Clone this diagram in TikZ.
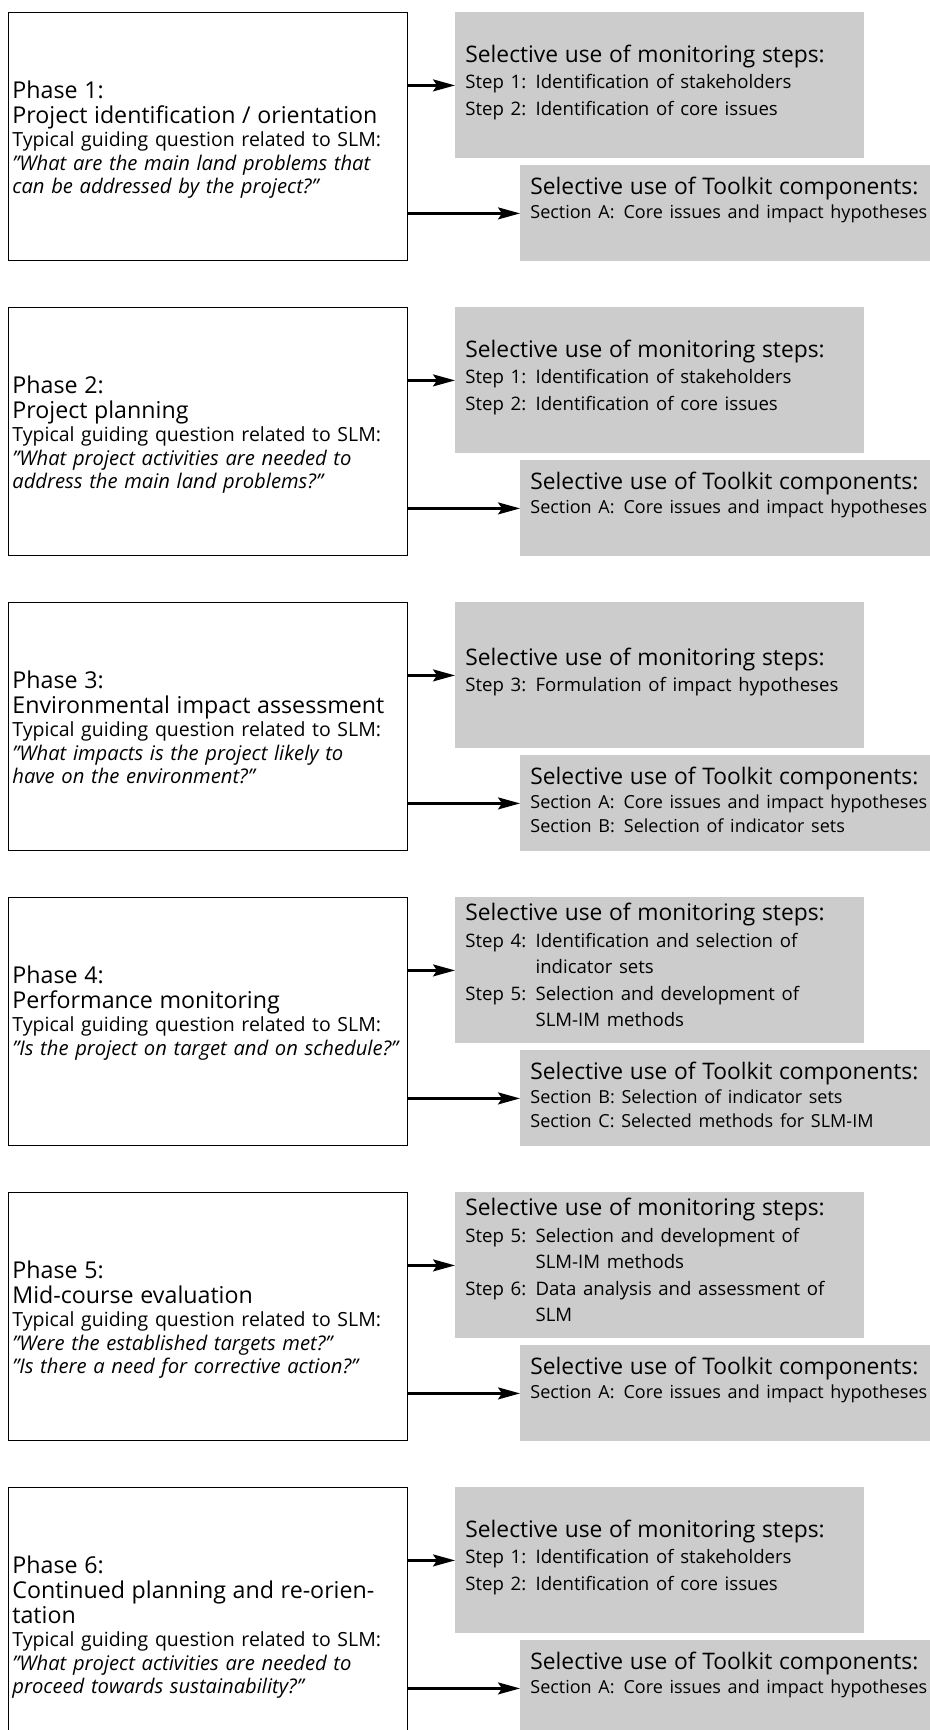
\documentclass[tikz,border=0pt]{standalone}
\usepackage{fontspec}
\setmainfont{Open Sans}
\usetikzlibrary{arrows.meta}
\newcommand\phasehead{\fontsize{11.6}{12.5}\selectfont}
\newcommand\phasebody{\fontsize{9.75}{11.8}\selectfont}
\newcommand\phasequote{\fontsize{10.1}{11.8}\selectfont\itshape}
\newcommand\boxhead{\fontsize{11.4}{12}\selectfont}
\newcommand\monbody{\fontsize{9.3}{13.2}\selectfont}
\newcommand\kitbody{\fontsize{9}{12}\selectfont}
\newcommand\steplist[1]{\begin{tabular}[t]{@{}l@{\enspace}l@{}}#1\end{tabular}}

\begin{document}
\begin{tikzpicture}[x=0.5pt,y=-0.5pt]
    \tikzstyle{phasebox} = [draw=black,line width=0.6pt,inner sep=0pt,anchor=north west,
                            minimum width=199.5pt,minimum height=124pt]
    \tikzstyle{monbox} = [fill=black!20,inner sep=0pt,anchor=north west,
                          minimum width=204.5pt,minimum height=73pt]
    \tikzstyle{kitbox} = [fill=black!20,inner sep=0pt,anchor=north west,
                          minimum width=207.5pt,minimum height=48pt]
    \tikzstyle{phasetxt} = [anchor=base west,inner sep=0pt,text width=200pt,align=left]
    \tikzstyle{montxt} = [anchor=west,inner sep=0pt,text width=198pt,align=left]
    \tikzstyle{kittxt} = [anchor=base west,inner sep=0pt,text width=240pt,align=left]
    \tikzstyle{link} = [line width=1.1pt,-{Stealth[length=11pt,width=6pt,inset=2pt]}]

    \useasboundingbox (0,0) rectangle (930,1730);
    \clip (0,0) rectangle (930,1730);

    % Phase 1
    \node[phasebox] (phase1) at (8,12) {};
    \node[monbox] (mon1) at (455,12) {};
    \node[kitbox] (kit1) at (520,165) {};
    \node[phasetxt] (phase1txt) at (12,98)
        {\phasehead Phase 1:\\Project identification / orientation\par
         \phasebody Typical guiding question related to SLM:\\
         {\phasequote "What are the main land problems that\\can be addressed by the project?"}\par};
    \node[montxt] (mon1txt) at (465,84)
        {\boxhead Selective use of monitoring steps:\par
         \monbody\steplist{Step 1: & Identification of stakeholders\\
                           Step 2: & Identification of core issues}\par};
    \node[kittxt] (kit1txt) at (530,194)
        {\boxhead Selective use of Toolkit components:\par
         \kitbody Section A:\enspace Core issues and impact hypotheses\par};
    \draw[link] (phase1.east |- mon1.west) -- (mon1.west);
    \draw[link] (phase1.east |- kit1.west) -- (kit1.west);

    % Phase 2
    \begin{scope}[yshift=-147.5pt]
    \node[phasebox] (phase2) at (8,12) {};
    \node[monbox] (mon2) at (455,12) {};
    \node[kitbox] (kit2) at (520,165) {};
    \node[phasetxt] (phase2txt) at (12,98)
        {\phasehead Phase 2:\\Project planning\par
         \phasebody Typical guiding question related to SLM:\\
         {\phasequote "What project activities are needed to\\address the main land problems?"}\par};
    \node[montxt] (mon2txt) at (465,84)
        {\boxhead Selective use of monitoring steps:\par
         \monbody\steplist{Step 1: & Identification of stakeholders\\
                           Step 2: & Identification of core issues}\par};
    \node[kittxt] (kit2txt) at (530,194)
        {\boxhead Selective use of Toolkit components:\par
         \kitbody Section A:\enspace Core issues and impact hypotheses\par};
    \draw[link] (phase2.east |- mon2.west) -- (mon2.west);
    \draw[link] (phase2.east |- kit2.west) -- (kit2.west);
    \end{scope}

    % Phase 3
    \begin{scope}[yshift=-295pt]
    \node[phasebox] (phase3) at (8,12) {};
    \node[monbox] (mon3) at (455,12) {};
    \node[kitbox] (kit3) at (520,165) {};
    \node[phasetxt] (phase3txt) at (12,98)
        {\phasehead Phase 3:\\Environmental impact assessment\par
         \phasebody Typical guiding question related to SLM:\\
         {\phasequote "What impacts is the project likely to\\have on the environment?"}\par};
    \node[montxt] (mon3txt) at (465,84)
        {\boxhead Selective use of monitoring steps:\par
         \monbody\steplist{Step 3: & Formulation of impact hypotheses}\par};
    \node[kittxt] (kit3txt) at (530,194)
        {\boxhead Selective use of Toolkit components:\par
         \kitbody Section A:\enspace Core issues and impact hypotheses\\
         Section B:\enspace Selection of indicator sets\par};
    \draw[link] (phase3.east |- mon3.west) -- (mon3.west);
    \draw[link] (phase3.east |- kit3.west) -- (kit3.west);
    \end{scope}

    % Phase 4
    \begin{scope}[yshift=-442.5pt]
    \node[phasebox] (phase4) at (8,12) {};
    \node[monbox] (mon4) at (455,12) {};
    \node[kitbox] (kit4) at (520,165) {};
    \node[phasetxt] (phase4txt) at (12,98)
        {\phasehead Phase 4:\\Performance monitoring\par
         \phasebody Typical guiding question related to SLM:\\
         {\phasequote "Is the project on target and on schedule?"}\par};
    \node[montxt] (mon4txt) at (465,84)
        {\boxhead Selective use of monitoring steps:\par
         \monbody\steplist{Step 4: & Identification and selection of\\
                                   & indicator sets\\
                           Step 5: & Selection and development of\\
                                   & SLM-IM methods}\par};
    \node[kittxt] (kit4txt) at (530,194)
        {\boxhead Selective use of Toolkit components:\par
         \kitbody Section B: Selection of indicator sets\\
         Section C: Selected methods for SLM-IM\par};
    \draw[link] (phase4.east |- mon4.west) -- (mon4.west);
    \draw[link] (phase4.east |- kit4.west) -- (kit4.west);
    \end{scope}

    % Phase 5
    \begin{scope}[yshift=-590pt]
    \node[phasebox] (phase5) at (8,12) {};
    \node[monbox] (mon5) at (455,12) {};
    \node[kitbox] (kit5) at (520,165) {};
    \node[phasetxt] (phase5txt) at (12,98)
        {\phasehead Phase 5:\\Mid-course evaluation\par
         \phasebody Typical guiding question related to SLM:\\
         {\phasequote "Were the established targets met?"\\
          "Is there a need for corrective action?"}\par};
    \node[montxt] (mon5txt) at (465,84)
        {\boxhead Selective use of monitoring steps:\par
         \monbody\steplist{Step 5: & Selection and development of\\
                                   & SLM-IM methods\\
                           Step 6: & Data analysis and assessment of\\
                                   & SLM}\par};
    \node[kittxt] (kit5txt) at (530,194)
        {\boxhead Selective use of Toolkit components:\par
         \kitbody Section A:\enspace Core issues and impact hypotheses\par};
    \draw[link] (phase5.east |- mon5.west) -- (mon5.west);
    \draw[link] (phase5.east |- kit5.west) -- (kit5.west);
    \end{scope}

    % Phase 6
    \begin{scope}[yshift=-737.5pt]
    \node[phasebox] (phase6) at (8,12) {};
    \node[monbox] (mon6) at (455,12) {};
    \node[kitbox] (kit6) at (520,165) {};
    \node[phasetxt] (phase6txt) at (12,98)
        {\phasehead Phase 6:\\Continued planning and re-orien-\\tation\par
         \phasebody Typical guiding question related to SLM:\\
         {\phasequote "What project activities are needed to\\proceed towards sustainability?"}\par};
    \node[montxt] (mon6txt) at (465,84)
        {\boxhead Selective use of monitoring steps:\par
         \monbody\steplist{Step 1: & Identification of stakeholders\\
                           Step 2: & Identification of core issues}\par};
    \node[kittxt] (kit6txt) at (530,194)
        {\boxhead Selective use of Toolkit components:\par
         \kitbody Section A:\enspace Core issues and impact hypotheses\par};
    \draw[link] (phase6.east |- mon6.west) -- (mon6.west);
    \draw[link] (phase6.east |- kit6.west) -- (kit6.west);
    \end{scope}
\end{tikzpicture}
\end{document}
